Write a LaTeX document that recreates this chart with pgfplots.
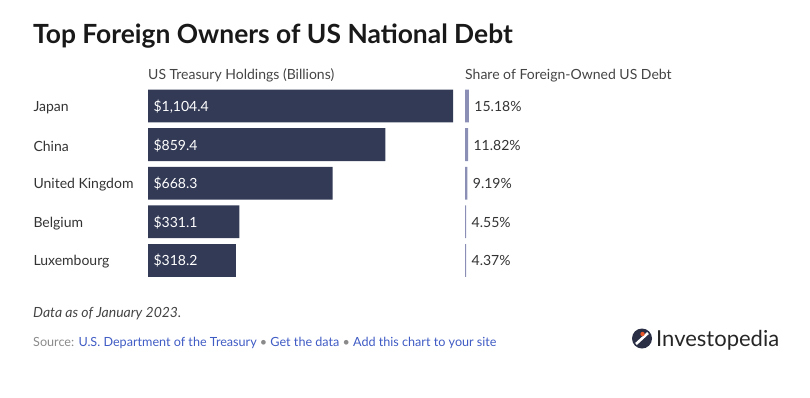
\documentclass[border=0pt]{standalone}
\usepackage{pgfplots}
\pgfplotsset{compat=1.18}
\usepackage{pgfplotstable}
\usepackage{fontspec}
\setmainfont{Lato}
\definecolor{barnavy}{HTML}{333A56}
\definecolor{sharebar}{HTML}{8B8FB5}
\definecolor{txt}{HTML}{333333}
\definecolor{subtxt}{HTML}{444444}
\definecolor{srcgray}{HTML}{8A8A8A}
\definecolor{linkblue}{HTML}{3F5BC4}
\definecolor{logonavy}{HTML}{2A2F45}
\definecolor{logoorange}{HTML}{E8572A}

\pgfplotstableread[col sep=comma]{
idx,name,value,share,zero
0,Japan,1104.4,15.18,0
1,China,859.4,11.82,0
2,United Kingdom,668.3,9.19,0
3,Belgium,331.1,4.55,0
4,Luxembourg,318.2,4.37,0
}\debt

\begin{document}
\begin{tikzpicture}
\useasboundingbox (0,0) rectangle (810pt,-397pt);

% title
\node[anchor=base west, inner sep=0, text=black!90, font=\fontsize{26.4}{30}\selectfont\bfseries] at (33pt,-43pt) {Top Foreign Owners of US National Debt};

% column headers
\node[anchor=base west, inner sep=0, text=subtxt, font=\fontsize{14}{16}\selectfont] at (148pt,-79pt) {US Treasury Holdings (Billions)};
\node[anchor=base west, inner sep=0, text=subtxt, font=\fontsize{14}{16}\selectfont] at (465pt,-79pt) {Share of Foreign-Owned US Debt};

% main bars
\begin{axis}[
  at={(148pt,-279.7pt)}, anchor=south west,
  scale only axis, width=305pt, height=193pt,
  xmin=0, xmax=1104.4, ymin=-0.5, ymax=4.5, y dir=reverse,
  axis line style={draw=none}, tick style={draw=none},
  xtick=\empty, ytick={0,1,2,3,4},
  yticklabels from table={\debt}{name},
  yticklabel style={anchor=west, xshift=-118pt, yshift=-1.5pt, text=txt, font=\fontsize{14}{16}\selectfont},
  clip=false,
  /pgf/number format/assume math mode=true,
]
\addplot[xbar, fill=barnavy, draw=none, bar width=0.85] table[x=value, y=idx]{\debt};
\addplot[draw=none, mark=none, nodes near coords={\$\pgfmathprintnumber[fixed, fixed zerofill, precision=1, 1000 sep={,}]{\pgfplotspointmeta}},
  point meta=explicit,
  nodes near coords style={anchor=west, xshift=2pt, yshift=-0.5pt, text=white, font=\fontsize{14}{16}\selectfont}]
  table[x=zero, y=idx, meta=value]{\debt};
\end{axis}

% share bars
\begin{axis}[
  at={(465pt,-279.7pt)}, anchor=south west,
  scale only axis, width=26pt, height=193pt,
  xmin=0, xmax=100, ymin=-0.5, ymax=4.5, y dir=reverse,
  hide axis, clip=false,
  /pgf/number format/assume math mode=true,
]
\addplot[xbar, fill=sharebar, draw=none, bar width=0.85,
  nodes near coords={\pgfmathprintnumber[fixed, fixed zerofill, precision=2]{\pgfplotspointmeta}\%},
  point meta=x,
  nodes near coords style={anchor=west, xshift=2pt, yshift=-0.5pt, text=txt, font=\fontsize{14}{16}\selectfont}]
  table[x=share, y=idx]{\debt};
\end{axis}

% notes
\node[anchor=base west, inner sep=0, text=subtxt, font=\fontsize{14}{16}\selectfont\itshape] at (33pt,-317pt) {Data as of January 2023.};
\node[anchor=base west, inner sep=0, font=\fontsize{12.6}{15}\selectfont] at (33pt,-346pt) {\textcolor{srcgray}{Source:} \textcolor{linkblue}{U.S. Department of the Treasury} \textcolor{srcgray}{\textbullet} \textcolor{linkblue}{Get the data} \textcolor{srcgray}{\textbullet} \textcolor{linkblue}{Add this chart to your site}};

% logo
\fill[logonavy] (642pt,-338.5pt) circle (10pt);
\draw[white, line width=2.6pt] (636pt,-344pt) -- (648pt,-333pt);
\fill[logoorange] (642.5pt,-334pt) circle (2.2pt);
\node[anchor=base west, inner sep=0, text=black!85, font=\fontsize{22}{26}\selectfont] at (656pt,-346pt) {Investopedia};
\end{tikzpicture}
\end{document}
